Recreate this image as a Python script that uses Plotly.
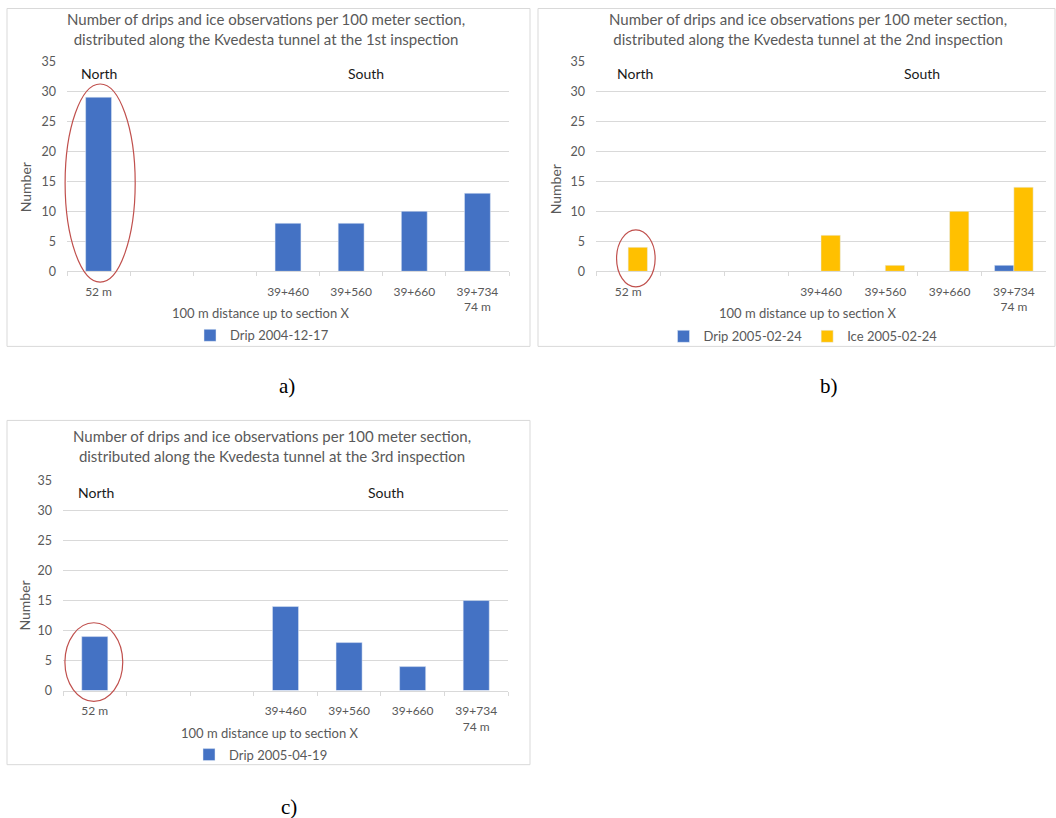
import plotly.graph_objects as go

W, H = 1056, 818

# Sections along the tunnel (two empty slots between the north and south ends)
sections = ["52 m", " ", "  ", "39+460", "39+560", "39+660", "39+734<br>74 m"]

drip_1st = [29, None, None, 8, 8, 10, 13]
drip_2nd = [0, None, None, 0, 0, 0, 1]
ice_2nd = [4, None, None, 6, 1, 10, 14]
drip_3rd = [9, None, None, 14, 8, 4, 15]

titles = [
    "Number of drips and ice observations per 100 meter section,<br>distributed along the Kvedesta tunnel at the 1st inspection",
    "Number of drips and ice observations per 100 meter section,<br>distributed along the Kvedesta tunnel at the 2nd inspection",
    "Number of drips and ice observations per 100 meter section,<br>distributed along the Kvedesta tunnel at the 3rd inspection",
]
panel_labels = ["a)", "b)", "c)"]
y_ticks = [0, 5, 10, 15, 20, 25, 30, 35]
Y_MAX = 35

BLUE = "#4472C4"
GOLD = "#FFC000"
GREY_TXT = "#595959"
GRID = "#D9D9D9"
FONT = "Lato, 'Open Sans', sans-serif"


def px(x):
    return x / W


def vy(y):
    """Vertical layout position (page pixels from top) to layout pixels."""
    return max((y - 7.85) / 0.981, 0.5)


def py(y):
    return 1 - vy(y) / H


fig = go.Figure()

# Panel a
fig.add_trace(go.Bar(x=sections, y=drip_1st, name="Drip 2004-12-17", marker_color=BLUE,
                     width=0.41, xaxis="x", yaxis="y", legend="legend"))
# Panel b
fig.add_trace(go.Bar(x=sections, y=drip_2nd, name="Drip 2005-02-24", marker_color=BLUE,
                     width=0.3, offset=-0.3, xaxis="x2", yaxis="y2", legend="legend2"))
fig.add_trace(go.Bar(x=sections, y=ice_2nd, name="Ice 2005-02-24", marker_color=GOLD,
                     width=0.3, offset=0.0, xaxis="x2", yaxis="y2", legend="legend2"))
# Panel c
fig.add_trace(go.Bar(x=sections, y=drip_3rd, name="Drip 2005-04-19", marker_color=BLUE,
                     width=0.41, xaxis="x3", yaxis="y3", legend="legend3"))

# plot areas in pixels: (left, right, top at 35, bottom at 0)
areas = [(67, 509, 61, 271), (596, 1046, 61, 271), (63, 508, 480, 690)]
# panel frames in pixels: (left, top, right, bottom)
frames = [(7, 5, 530, 346), (538, 5, 1055, 346), (7, 420, 530, 764)]


def xaxis_cfg(a, anchor):
    return dict(
        domain=[px(a[0]), px(a[1])], anchor=anchor, type="category",
        categoryorder="array", categoryarray=sections, range=[-0.5, len(sections) - 0.5],
        showgrid=False, showline=True, linecolor=GRID, linewidth=1,
        ticks="outside", tickson="boundaries", ticklen=4, tickcolor=GRID,
        ticklabelstandoff=9,
        tickfont=dict(family=FONT, size=12, color=GREY_TXT), fixedrange=True,
    )


def yaxis_cfg(a, anchor):
    return dict(
        domain=[py(a[3]), py(a[2])], anchor=anchor, range=[0, Y_MAX],
        tickvals=y_ticks, showgrid=True, gridcolor=GRID, gridwidth=1,
        zeroline=False, showline=False, ticks="", ticklabelstandoff=10,
        tickfont=dict(family=FONT, size=12.5, color=GREY_TXT), fixedrange=True,
    )


layout = dict(
    width=W, height=H, margin=dict(l=0, r=0, t=0, b=0),
    paper_bgcolor="white", plot_bgcolor="white",
    barmode="overlay", showlegend=True,
    font=dict(family=FONT, color=GREY_TXT),
    xaxis=xaxis_cfg(areas[0], "y"), yaxis=yaxis_cfg(areas[0], "x"),
    xaxis2=xaxis_cfg(areas[1], "y2"), yaxis2=yaxis_cfg(areas[1], "x2"),
    xaxis3=xaxis_cfg(areas[2], "y3"), yaxis3=yaxis_cfg(areas[2], "x3"),
)

legend_pos = [(262, 335), (803, 336), (261, 754)]
for i, (lx, ly) in enumerate(legend_pos):
    key = "legend" if i == 0 else f"legend{i + 1}"
    layout[key] = dict(
        orientation="h", x=px(lx), y=py(ly), xanchor="center", yanchor="middle",
        font=dict(family=FONT, size=13, color=GREY_TXT), bgcolor="rgba(0,0,0,0)",
        itemwidth=30, tracegroupgap=0,
    )

fig.update_layout(**layout)


def to_paper(area, xi, yv):
    """Map a category index / value pair of a panel to paper coordinates."""
    l, r, t, b = area
    step = (r - l) / len(sections)
    xpix = l + (xi + 0.5) * step
    ypix = b - (b - t) * yv / Y_MAX
    return px(xpix), py(ypix)


shapes = []
annotations = []

# frames around each chart
for (l, t, r, b) in frames:
    shapes.append(dict(type="rect", xref="paper", yref="paper",
                       x0=px(l), x1=px(r), y0=py(b), y1=py(t),
                       line=dict(color=GRID, width=1), layer="below"))

# red ellipses marking the north end (category index span, value span)
ellipses = [(0, -0.53, 0.58, -1.8, 31.2),
            (1, -0.18, 0.42, -2.6, 6.9),
            (2, -0.47, 0.44, -1.8, 11.3)]
for k, x0, x1, y0, y1 in ellipses:
    px0, py0 = to_paper(areas[k], x0, y0)
    px1, py1 = to_paper(areas[k], x1, y1)
    shapes.append(dict(type="circle", xref="paper", yref="paper",
                       x0=px0, x1=px1, y0=py0, y1=py1,
                       line=dict(color="#C0504D", width=1.2)))

title_pos = [(266, 29), (808, 29), (272, 446)]
xtitle_pos = [(261, 313), (808, 313), (270, 732)]
ytitle_pos = [(25, 187), (555, 189), (25, 605)]
label_pos = [(287, 386), (829, 386), (289, 806)]
north_pos = [(0.0, 33.0), (0.1, 33.0), (0.02, 33.0)]
south_pos = [(4.23, 33.0), (4.57, 33.0), (4.58, 33.0)]
axes_refs = [("x", "y"), ("x2", "y2"), ("x3", "y3")]

for i in range(3):
    tx, ty = title_pos[i]
    annotations.append(dict(text=titles[i], xref="paper", yref="paper", x=px(tx), y=py(ty),
                            xanchor="center", yanchor="middle", showarrow=False,
                            font=dict(family=FONT, size=15, color=GREY_TXT)))
    xx, xy = xtitle_pos[i]
    annotations.append(dict(text="100 m distance up to section X", xref="paper", yref="paper",
                            x=px(xx), y=py(xy), xanchor="center", yanchor="middle",
                            showarrow=False, font=dict(family=FONT, size=13, color=GREY_TXT)))
    yx, yy = ytitle_pos[i]
    annotations.append(dict(text="Number", xref="paper", yref="paper", x=px(yx), y=py(yy),
                            xanchor="center", yanchor="middle", textangle=-90,
                            showarrow=False, font=dict(family=FONT, size=14, color=GREY_TXT)))
    lx, ly = label_pos[i]
    annotations.append(dict(text=panel_labels[i], xref="paper", yref="paper", x=px(lx), y=py(ly),
                            xanchor="center", yanchor="middle", showarrow=False,
                            font=dict(family="'Liberation Serif', serif", size=21, color="#000000")))
    xr, yr = axes_refs[i]
    nx, ny = north_pos[i]
    annotations.append(dict(text="North", xref=xr, yref=yr, x=nx, y=ny, xanchor="center",
                            yanchor="middle", showarrow=False,
                            font=dict(family=FONT, size=14, color="#1a1a1a")))
    sx, sy = south_pos[i]
    annotations.append(dict(text="South", xref=xr, yref=yr, x=sx, y=sy, xanchor="center",
                            yanchor="middle", showarrow=False,
                            font=dict(family=FONT, size=14, color="#1a1a1a")))

fig.update_layout(shapes=shapes, annotations=annotations)

fig.write_html("out.html")
